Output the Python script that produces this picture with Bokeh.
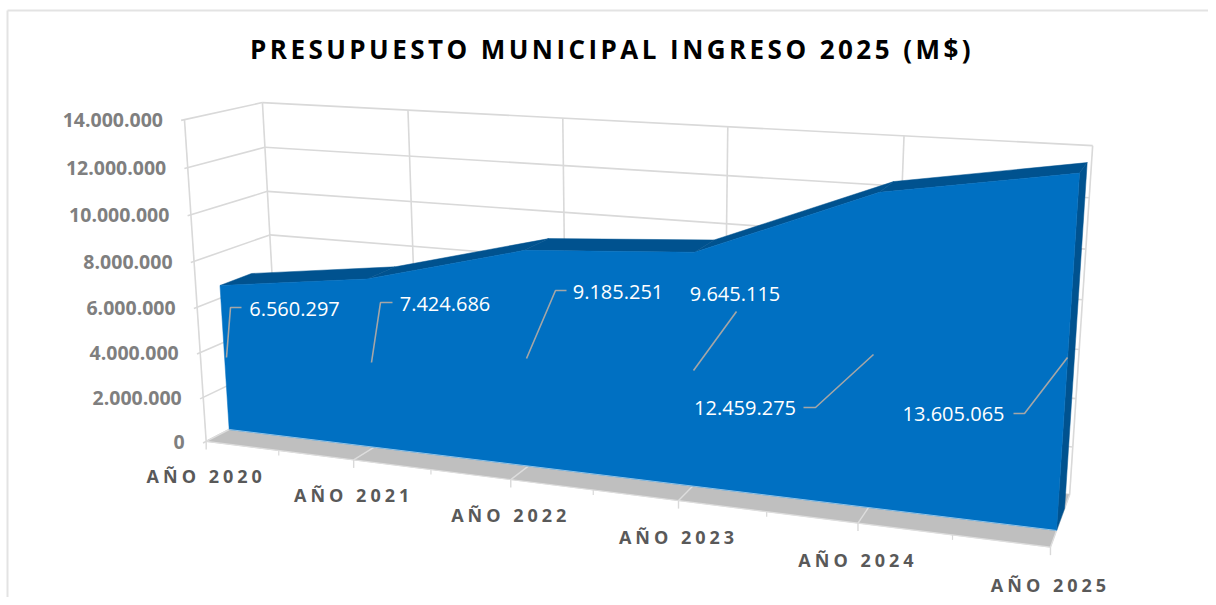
import numpy as np
from bokeh.core.properties import value
from bokeh.document import Document
from bokeh.embed import file_html
from bokeh.models import CustomJS, Range1d
from bokeh.plotting import figure
from bokeh.resources import INLINE

TITLE = "PRESUPUESTO MUNICIPAL INGRESO 2025 (M$)"
categories = ["AÑO 2020", "AÑO 2021", "AÑO 2022", "AÑO 2023", "AÑO 2024", "AÑO 2025"]
ingresos = [6560297, 7424686, 9185251, 9645115, 12459275, 13605065]
data_labels = ["6.560.297", "7.424.686", "9.185.251", "9.645.115", "12.459.275", "13.605.065"]
y_ticks = [0, 2000000, 4000000, 6000000, 8000000, 10000000, 12000000, 14000000]
y_tick_labels = ["0", "2.000.000", "4.000.000", "6.000.000", "8.000.000", "10.000.000", "12.000.000", "14.000.000"]
Y_MAX = 14000000
N = len(categories) - 1
W_FRONT, W_BACK = 0.3, 0.72   # depth of the area slab inside the 3D box
CAT_SPACING = 4.0
TITLE_SPACING = 3.45

# camera calibration: (category, value, depth) -> page pixel
calib = [
    (0, 0, 0, 207, 440), (0, Y_MAX, 0, 184, 120), (0, 0, 1, 279, 407), (0, Y_MAX, 1, 263, 101),
    (5, 0, 1, 1068, 492), (5, Y_MAX, 1, 1093, 145), (5, 0, 0, 1050, 547),
    (1, 0, 0, 353, 459), (2, 0, 0, 510, 479), (3, 0, 0, 677, 501), (4, 0, 0, 857, 523),
    (1, Y_MAX, 1, 407, 109), (2, Y_MAX, 1, 562, 117), (3, Y_MAX, 1, 727, 126), (4, Y_MAX, 1, 903, 135),
    (0, 0, 0.3, 228, 428), (5, 0, 0.3, 1057, 530),
    (0, 6560297, 0.3, 219, 284), (5, 13605065, 0.3, 1080, 173),
    (5, 13605065, 0.8, 1087, 163), (5, 0, 0.8, 1067, 503),
]
A = []
for u, v, w, sx, sy in calib:
    X = [u / N, v / Y_MAX, w, 1.0]
    A.append([*X, 0, 0, 0, 0, *[-sx * c for c in X]])
    A.append([0, 0, 0, 0, *X, *[-sy * c for c in X]])
P = np.linalg.svd(np.array(A))[2][-1].reshape(3, 4)


def proj(u, v, w):
    h = P @ np.array([u / N, v / Y_MAX, w, 1.0])
    return float(h[0] / h[2]), float(h[1] / h[2])


def seg(p, a, b, color="#D9D9D9", width=1.6):
    xa, ya = proj(*a)
    xb, yb = proj(*b)
    p.line([xa, xb], [ya, yb], line_color=color, line_width=width)


def face(p, pts, color):
    xy = [proj(*q) for q in pts]
    p.patch([c[0] for c in xy], [c[1] for c in xy], fill_color=color, line_color=color, line_width=0.5)


p = figure(width=1208, height=597, x_range=Range1d(0, 1208), y_range=Range1d(597, 0),
           output_backend="svg", toolbar_location=None, x_axis_type=None, y_axis_type=None,
           min_border=0, outline_line_color=None)
p.grid.visible = False

# chart frame
p.line([7, 7], [597, 10], line_color="#E3E3E3", line_width=2)
p.line([7, 1208], [10, 10], line_color="#E3E3E3", line_width=2)

# walls
for t in y_ticks:
    seg(p, (0, t, 1), (N, t, 1))
    seg(p, (0, t, -0.04), (0, t, 1))
for i in range(N + 1):
    seg(p, (i, 0, 1), (i, Y_MAX, 1))
seg(p, (0, 0, 0), (0, Y_MAX, 0))

# floor, its grid and ticks
face(p, [(0, 0, 0), (N, 0, 0), (N, 0, 1), (0, 0, 1)], "#BFBFBF")
seg(p, (0, 0, 0), (N, 0, 0), "#DDDDDD", 1.2)
for i in range(N + 1):
    seg(p, (i, 0, 0), (i, 0, 1), "#DDDDDD", 1.4)
    x0, y0 = proj(i, 0, 0)
    p.line([x0, x0], [y0, y0 + 8], line_color="#D9D9D9", line_width=1.4)
for i in range(N):
    x0, y0 = proj(i + 0.5, 0, 0)
    p.line([x0, x0], [y0, y0 + 5], line_color="#D9D9D9", line_width=1.2)

# area slab
for i in range(N):
    face(p, [(i, ingresos[i], W_FRONT), (i + 1, ingresos[i + 1], W_FRONT),
             (i + 1, ingresos[i + 1], W_BACK), (i, ingresos[i], W_BACK)], "#00528F")
face(p, [(N, 0, W_FRONT), (N, ingresos[N], W_FRONT), (N, ingresos[N], W_BACK), (N, 0, W_BACK)], "#00528F")
front = [(0, 0, W_FRONT)] + [(i, ingresos[i], W_FRONT) for i in range(N + 1)] + [(N, 0, W_FRONT)]
face(p, front, "#0070C2")
seg(p, (0, 0, W_FRONT), (N, 0, W_FRONT), "#8FC3E8", 1.0)

# leader lines of the data labels
leaders = [
    ([226, 230, 241], [357, 307, 307]), ([371, 380, 392], [362, 302, 302]),
    ([526, 555, 566], [358, 290, 290]), ([693, 736], [370, 311]),
    ([803, 815, 873], [407, 407, 354]), ([1013, 1024, 1067], [413, 413, 357]),
]
for xs, ys in leaders:
    p.line(xs, ys, line_color="#A6A6A6", line_width=1.6)

# data labels
label_x = [294, 444.5, 617.5, 734.5, 744.5, 953]
label_y = [308, 303, 291, 293, 407, 413]
p.text(label_x, label_y, text=data_labels, text_color="#FFFFFF", text_font=value("Open Sans"),
       text_font_size="20px", text_align="center", text_baseline="middle")

# value-axis labels
yx, yy = zip(*[proj(0, t, 0) for t in y_ticks])
p.text([x - 21.5 for x in yx], [y + 0.5 for y in yy], text=y_tick_labels, text_color="#7F7F7F",
       text_font=value("Open Sans"), text_font_style="bold", text_font_size="19.5px",
       text_align="right", text_baseline="middle")

# category labels (the browser adds the letter spacing after Bokeh has anchored them)
cx, cy = zip(*[proj(i, 0, 0) for i in range(N + 1)])
p.text([x - CAT_SPACING * len(c) / 2 for x, c in zip(cx, categories)],
       [y + 34.5 + 0.7 * i for i, y in enumerate(cy)],
       text=categories, text_color="#595959",
       text_font=value("Open Sans"), text_font_style="bold", text_font_size="18px",
       text_align="center", text_baseline="middle")

# title
p.text([611.5 - TITLE_SPACING * len(TITLE) / 2], [48], text=[TITLE], text_color="#000000",
       text_font=value("Open Sans"), text_font_style="bold", text_font_size="26px",
       text_align="center", text_baseline="middle")

spacing_js = """
function walk(root, out) {
  root.querySelectorAll('*').forEach(e => {
    if (e.tagName.toLowerCase() === 'text') out.push(e);
    if (e.shadowRoot) walk(e.shadowRoot, out);
  });
}
function apply() {
  const out = [];
  walk(document, out);
  out.forEach(e => {
    const t = e.textContent;
    if (t.startsWith('AÑO')) e.style.letterSpacing = cat + 'px';
    if (t.startsWith('PRESUPUESTO')) e.style.letterSpacing = ttl + 'px';
  });
}
apply();
[50, 200, 500, 1000, 2000].forEach(d => setTimeout(apply, d));
"""
doc = Document()
doc.add_root(p)
doc.js_on_event("document_ready", CustomJS(args=dict(cat=CAT_SPACING, ttl=TITLE_SPACING), code=spacing_js))
open("out.html", "w").write(file_html(doc, INLINE))
